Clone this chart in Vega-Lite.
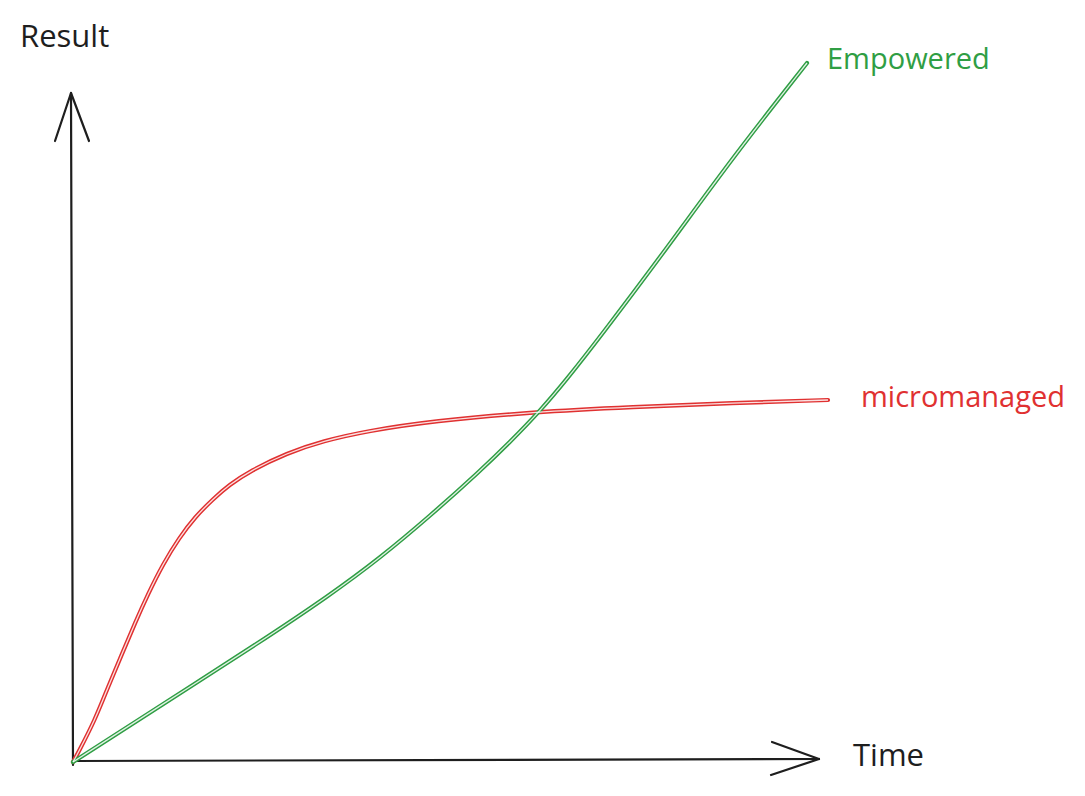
{
  "$schema": "https://vega.github.io/schema/vega-lite/v6.json",
  "width": 1085,
  "height": 796,
  "autosize": {"type": "fit", "contains": "padding"},
  "padding": 0,
  "background": "white",
  "config": {"view": {"stroke": null}},
  "datasets": {
    "curves": [
      {"series": "micromanaged", "time": 0, "result": 0},
      {"series": "micromanaged", "time": 5, "result": 9},
      {"series": "micromanaged", "time": 22, "result": 42},
      {"series": "micromanaged", "time": 35, "result": 75},
      {"series": "micromanaged", "time": 49, "result": 108},
      {"series": "micromanaged", "time": 62, "result": 139},
      {"series": "micromanaged", "time": 75, "result": 168},
      {"series": "micromanaged", "time": 90, "result": 198},
      {"series": "micromanaged", "time": 106, "result": 224},
      {"series": "micromanaged", "time": 122, "result": 245},
      {"series": "micromanaged", "time": 140, "result": 263},
      {"series": "micromanaged", "time": 156, "result": 277},
      {"series": "micromanaged", "time": 177, "result": 291},
      {"series": "micromanaged", "time": 214, "result": 309},
      {"series": "micromanaged", "time": 250, "result": 321},
      {"series": "micromanaged", "time": 294, "result": 331},
      {"series": "micromanaged", "time": 360, "result": 341},
      {"series": "micromanaged", "time": 460, "result": 350},
      {"series": "micromanaged", "time": 560, "result": 355},
      {"series": "micromanaged", "time": 660, "result": 359},
      {"series": "micromanaged", "time": 755, "result": 362},
      {"series": "Empowered", "time": 0, "result": 0},
      {"series": "Empowered", "time": 87, "result": 56},
      {"series": "Empowered", "time": 187, "result": 120},
      {"series": "Empowered", "time": 257, "result": 167},
      {"series": "Empowered", "time": 307, "result": 204},
      {"series": "Empowered", "time": 357, "result": 246},
      {"series": "Empowered", "time": 407, "result": 291},
      {"series": "Empowered", "time": 437, "result": 320},
      {"series": "Empowered", "time": 467, "result": 351},
      {"series": "Empowered", "time": 494, "result": 383},
      {"series": "Empowered", "time": 527, "result": 425},
      {"series": "Empowered", "time": 594, "result": 514},
      {"series": "Empowered", "time": 660, "result": 605},
      {"series": "Empowered", "time": 734, "result": 699}
    ],
    "strokes": [
      {"t0": 0, "r0": -3, "t1": -2, "r1": 669},
      {"t0": -18, "r0": 621, "t1": -2, "r1": 669},
      {"t0": 16, "r0": 621, "t1": -2, "r1": 669},
      {"t0": 0, "r0": 1, "t1": 746, "r1": 3},
      {"t0": 699, "r0": 20, "t1": 746, "r1": 3},
      {"t0": 698, "r0": -13, "t1": 746, "r1": 3}
    ],
    "axisLabels": [
      {"series": "axis", "label": "Result", "time": -53, "result": 724},
      {"series": "axis", "label": "Time", "time": 780, "result": 5}
    ],
    "curveLabels": [
      {"series": "Empowered", "label": "Empowered", "time": 754, "result": 702},
      {"series": "micromanaged", "label": "micromanaged", "time": 788, "result": 364}
    ]
  },
  "layer": [
    {
      "data": {"name": "strokes"},
      "mark": {"type": "rule", "color": "#1e1e1e", "strokeWidth": 2.2, "strokeCap": "round"},
      "encoding": {
        "x": {"field": "t0", "type": "quantitative", "scale": {"domain": [-73, 1012], "nice": false, "zero": false}, "axis": null},
        "y": {"field": "r0", "type": "quantitative", "scale": {"domain": [-34, 762], "nice": false, "zero": false}, "axis": null},
        "x2": {"field": "t1"},
        "y2": {"field": "r1"}
      }
    },
    {
      "data": {"name": "curves"},
      "mark": {"type": "line", "interpolate": "basis", "strokeWidth": 4.2, "strokeCap": "round"},
      "encoding": {
        "x": {"field": "time", "type": "quantitative"},
        "y": {"field": "result", "type": "quantitative"},
        "color": {"field": "series", "type": "nominal", "scale": {"domain": ["Empowered", "micromanaged", "axis"], "range": ["#2f9e44", "#e03131", "#1e1e1e"]}, "legend": null}
      }
    },
    {
      "data": {"name": "curves"},
      "mark": {"type": "line", "interpolate": "basis", "strokeWidth": 1.3, "color": "white", "opacity": 0.85},
      "encoding": {
        "x": {"field": "time", "type": "quantitative"},
        "y": {"field": "result", "type": "quantitative"},
        "detail": {"field": "series", "type": "nominal"}
      }
    },
    {
      "data": {"name": "curveLabels"},
      "mark": {"type": "text", "align": "left", "baseline": "middle", "font": "Open Sans", "fontSize": 29},
      "encoding": {
        "x": {"field": "time", "type": "quantitative"},
        "y": {"field": "result", "type": "quantitative"},
        "text": {"field": "label", "type": "nominal"},
        "color": {"field": "series", "type": "nominal", "legend": null}
      }
    },
    {
      "data": {"name": "axisLabels"},
      "mark": {"type": "text", "align": "left", "baseline": "middle", "font": "Open Sans", "fontSize": 31},
      "encoding": {
        "x": {"field": "time", "type": "quantitative"},
        "y": {"field": "result", "type": "quantitative"},
        "text": {"field": "label", "type": "nominal"},
        "color": {"field": "series", "type": "nominal", "legend": null}
      }
    }
  ]
}
